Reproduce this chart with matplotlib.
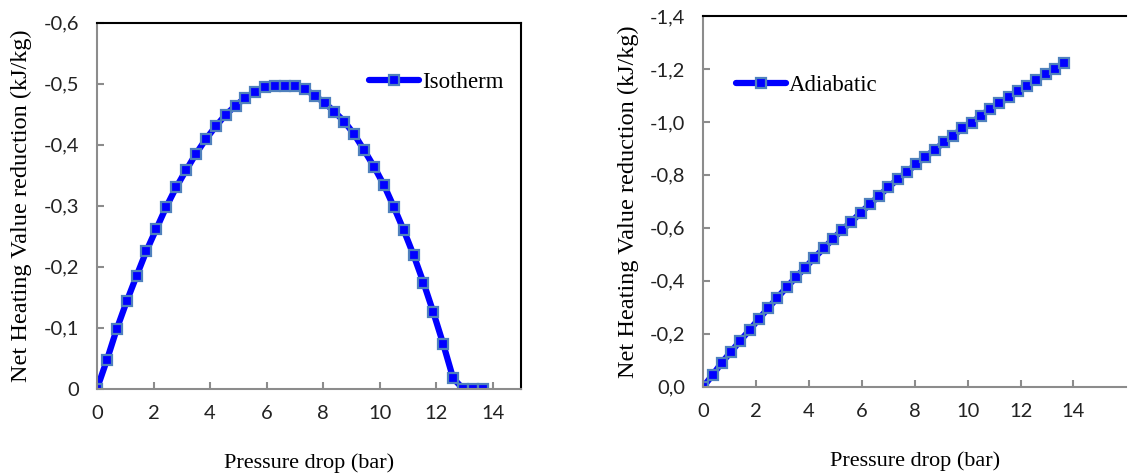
import numpy as np
import matplotlib
matplotlib.use('Agg')
from matplotlib import pyplot as plt
from matplotlib.ticker import FuncFormatter

# pressure drop (bar), same grid for both cases
dp = [round(0.35 * i, 2) for i in range(40)]

# net heating value reduction (kJ/kg)
isotherm = [0, -0.047, -0.098, -0.143, -0.185, -0.226, -0.262, -0.298, -0.330, -0.358,
            -0.385, -0.409, -0.430, -0.449, -0.464, -0.477, -0.487, -0.494, -0.496, -0.497,
            -0.496, -0.492, -0.480, -0.469, -0.454, -0.438, -0.417, -0.391, -0.364, -0.334,
            -0.298, -0.260, -0.219, -0.174, -0.125, -0.073, -0.017, 0, 0, 0]
adiabatic = [0, -0.044, -0.091, -0.132, -0.174, -0.214, -0.256, -0.296, -0.336, -0.375,
             -0.413, -0.449, -0.487, -0.522, -0.558, -0.592, -0.623, -0.657, -0.689, -0.721,
             -0.753, -0.783, -0.811, -0.840, -0.869, -0.894, -0.923, -0.948, -0.976, -0.997,
             -1.024, -1.049, -1.070, -1.093, -1.117, -1.137, -1.158, -1.180, -1.201, -1.222]

SERIF = 'Liberation Serif'
TICKFONT = 'Lato'


def comma_fmt(decimals, zero_plain):
    def f(v, pos):
        if abs(v) < 1e-9:
            return '0' if zero_plain else '0,' + '0' * decimals
        return ('%.' + str(decimals) + 'f') % v
    return FuncFormatter(lambda v, pos: f(v, pos).replace('.', ','))


def style_axes(ax):
    for s in ('left', 'bottom'):
        ax.spines[s].set_color('#8c8c8c')
        ax.spines[s].set_linewidth(1.5)
    for s in ('top', 'right'):
        ax.spines[s].set_color('black')
        ax.spines[s].set_linewidth(1.5)
    ax.tick_params(direction='in', length=5, width=1.5, color='#8c8c8c',
                   labelsize=14.5, labelcolor='#222222')
    ax.tick_params(axis='x', pad=12)
    ax.tick_params(axis='y', pad=13)
    for lab in ax.get_xticklabels() + ax.get_yticklabels():
        lab.set_fontfamily(TICKFONT)
    ax.set_xlabel('Pressure drop (bar)', fontfamily=SERIF, fontsize=16, labelpad=22)
    ax.set_ylabel('Net Heating Value reduction (kJ/kg)', fontfamily=SERIF, fontsize=17.5,
                  labelpad=8)


def draw(ax, y, name):
    ax.plot(dp, y, color='#0000ff', lw=4.5, marker='s', ms=6.5, mfc='#0000ff',
            mec='#4f81bd', mew=1.6, label=name, solid_capstyle='round')


fig = plt.figure(figsize=(11.3, 4.75), dpi=100)

ax1 = fig.add_axes([97 / 1130, 86.3 / 475, 424 / 1130, 366 / 475])
draw(ax1, isotherm, 'Isotherm')
ax1.set_xlim(0, 15)
ax1.set_ylim(0, -0.6)
ax1.set_xticks(range(0, 15, 2))
ax1.set_yticks(np.arange(0, -0.61, -0.1))
ax1.yaxis.set_major_formatter(comma_fmt(1, True))
style_axes(ax1)
ax1.legend(loc='upper left', bbox_to_anchor=(0.62, 0.89), frameon=False,
           prop={'family': SERIF, 'size': 16.5}, handlelength=2.2, handletextpad=0.1,
           borderaxespad=0)

ax2 = fig.add_axes([703.3 / 1130, 88.3 / 475, 423 / 1130, 370.7 / 475])
draw(ax2, adiabatic, 'Adiabatic')
ax2.set_xlim(0, 16)
ax2.set_ylim(0, -1.4)
ax2.set_xticks(range(0, 15, 2))
ax2.set_yticks(np.arange(0, -1.41, -0.2))
ax2.yaxis.set_major_formatter(comma_fmt(1, False))
style_axes(ax2)
ax2.spines['right'].set_visible(False)
ax2.legend(loc='upper left', bbox_to_anchor=(0.055, 0.865), frameon=False,
           prop={'family': SERIF, 'size': 16.5}, handlelength=2.2, handletextpad=0.1,
           borderaxespad=0)

fig.savefig('out.png', dpi=100)
